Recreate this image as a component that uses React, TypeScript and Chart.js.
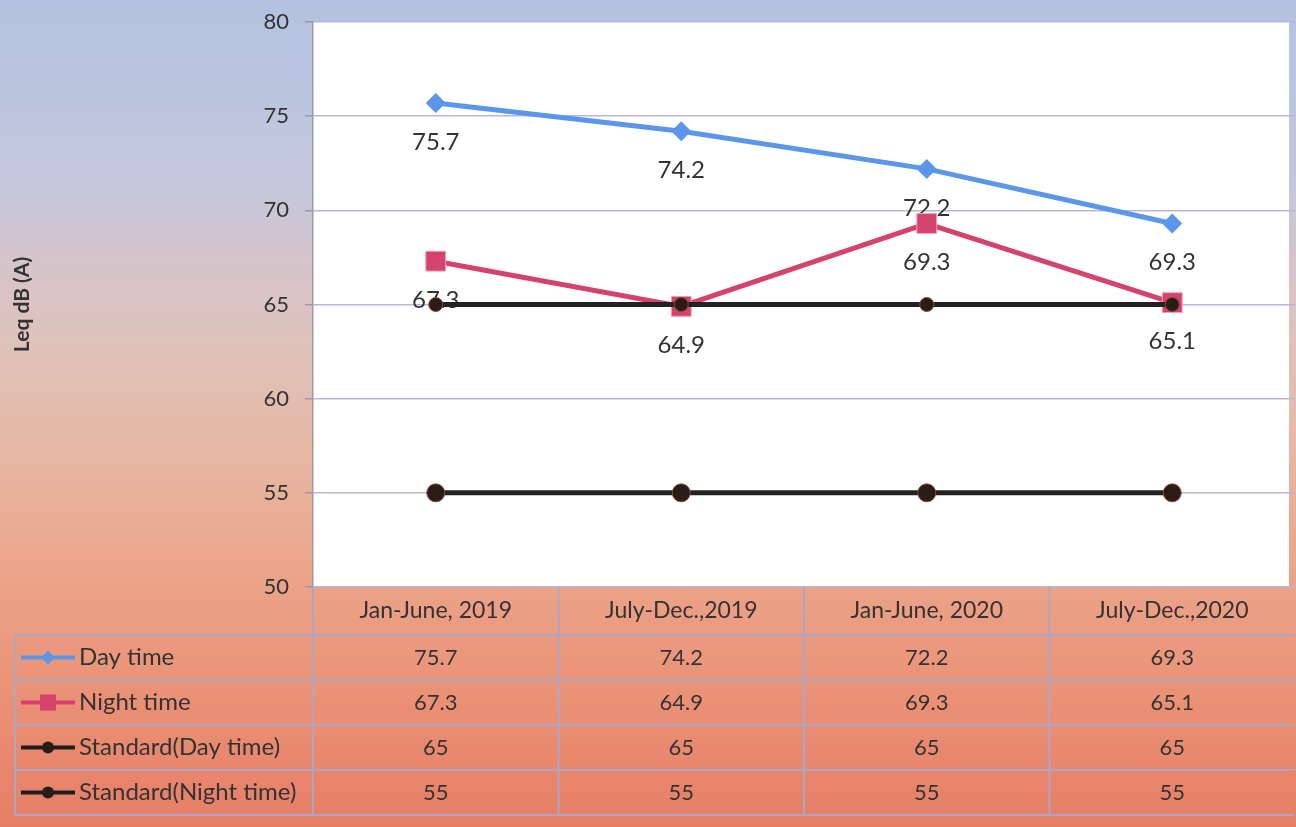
import React, { useEffect, useRef } from "react";
import { Chart, registerables } from "chart.js";

Chart.register(...registerables);

const categories = ["Jan-June, 2019", "July-Dec.,2019", "Jan-June, 2020", "July-Dec.,2020"];
const dayTime = [75.7, 74.2, 72.2, 69.3];
const nightTime = [67.3, 64.9, 69.3, 65.1];
const standardDay = [65, 65, 65, 65];
const standardNight = [55, 55, 55, 55];
const seriesNames = ["Day time", "Night time", "Standard(Day time)", "Standard(Night time)"];
const yTicks = [50, 55, 60, 65, 70, 75, 80];

const FONT = "Lato, 'Open Sans', sans-serif";
const TEXT = "#333333";
const BORDER = "#aaa6c8";

const areaPlugin = {
  id: "areaPlugin",
  afterLayout(chart: any) {
    const ca = chart.chartArea;
    const r = chart.width - 1;
    ca.right = r;
    ca.width = r - ca.left;
    const xs = chart.scales.x;
    xs.right = r;
    xs.width = r - xs.left;
    xs.configure();
  },
};

const bgPlugin = {
  id: "bgPlugin",
  beforeDraw(chart: any) {
    const { ctx, width, height, chartArea } = chart;
    ctx.save();
    const g = ctx.createLinearGradient(0, 0, 0, height);
    g.addColorStop(0, "#b4c2df");
    g.addColorStop(0.22, "#c3c7dd");
    g.addColorStop(0.32, "#d6c4ca");
    g.addColorStop(0.42, "#dfc2ba");
    g.addColorStop(0.55, "#e6b7a3");
    g.addColorStop(0.68, "#eba68b");
    g.addColorStop(0.84, "#ea9176");
    g.addColorStop(1, "#e67e66");
    ctx.fillStyle = g;
    ctx.fillRect(0, 0, width, height);
    ctx.fillStyle = "#ffffff";
    ctx.fillRect(chartArea.left, chartArea.top, chartArea.right - chartArea.left - 6, chartArea.bottom - chartArea.top);
    ctx.restore();
  },
};

const labelPlugin = {
  id: "labelPlugin",
  beforeDatasetsDraw(chart: any) {
    const { ctx } = chart;
    ctx.save();
    ctx.font = `24px ${FONT}`;
    ctx.fillStyle = TEXT;
    ctx.textAlign = "center";
    ctx.textBaseline = "middle";
    [0, 1].forEach((di) => {
      const meta = chart.getDatasetMeta(di);
      const data = chart.data.datasets[di].data as number[];
      meta.data.forEach((pt: any, i: number) => {
        ctx.fillText(String(data[i]), pt.x, pt.y + 39);
      });
    });
    ctx.restore();
  },
};

function drawLegendSymbol(ctx: CanvasRenderingContext2D, di: number, cx: number, cy: number) {
  const colors = ["#5b96ea", "#d4436d", "#1e1e1e", "#1e1e1e"];
  ctx.save();
  ctx.strokeStyle = colors[di];
  ctx.lineWidth = 4;
  ctx.beginPath();
  ctx.moveTo(cx - 27, cy);
  ctx.lineTo(cx + 27, cy);
  ctx.stroke();
  ctx.fillStyle = di < 2 ? colors[di] : "#2a1d18";
  ctx.beginPath();
  if (di === 0) {
    ctx.moveTo(cx, cy - 7);
    ctx.lineTo(cx + 7, cy);
    ctx.lineTo(cx, cy + 7);
    ctx.lineTo(cx - 7, cy);
    ctx.closePath();
  } else if (di === 1) {
    ctx.rect(cx - 8, cy - 8, 16, 16);
  } else {
    ctx.arc(cx, cy, 6, 0, Math.PI * 2);
  }
  ctx.fill();
  ctx.restore();
}

const tablePlugin = {
  id: "tablePlugin",
  afterDraw(chart: any) {
    const { ctx, chartArea } = chart;
    const xs = chart.scales.x;
    const n = categories.length;
    const colW = (xs.getPixelForValue(1) - xs.getPixelForValue(0));
    const right = xs.getPixelForValue(n - 1) + colW / 2;
    const top = chartArea.bottom;
    const headerBottom = top + 48;
    const rowH = 45;
    const legendLeft = 15;
    const rows = [dayTime, nightTime, standardDay, standardNight];
    const tableBottom = headerBottom + rowH * rows.length;

    ctx.save();
    ctx.strokeStyle = BORDER;
    ctx.lineWidth = 2;
    for (let r = 0; r <= rows.length; r++) {
      const y = headerBottom + r * rowH;
      ctx.beginPath();
      ctx.moveTo(legendLeft, y);
      ctx.lineTo(right, y);
      ctx.stroke();
    }
    ctx.beginPath();
    ctx.moveTo(legendLeft, headerBottom);
    ctx.lineTo(legendLeft, tableBottom);
    ctx.stroke();
    for (let c = 0; c < n; c++) {
      const x = xs.getPixelForValue(c) - colW / 2;
      ctx.beginPath();
      ctx.moveTo(x, top);
      ctx.lineTo(x, tableBottom);
      ctx.stroke();
    }

    ctx.fillStyle = TEXT;
    ctx.textBaseline = "middle";
    ctx.textAlign = "center";
    ctx.font = `23px ${FONT}`;
    categories.forEach((c, i) => {
      ctx.fillText(c, xs.getPixelForValue(i), (top + headerBottom) / 2);
    });
    ctx.font = `22px ${FONT}`;
    rows.forEach((row, r) => {
      const cy = headerBottom + r * rowH + rowH / 2;
      row.forEach((v, i) => {
        ctx.fillText(String(v), xs.getPixelForValue(i), cy);
      });
    });
    ctx.textAlign = "left";
    ctx.font = `24px ${FONT}`;
    seriesNames.forEach((name, r) => {
      const cy = headerBottom + r * rowH + rowH / 2;
      drawLegendSymbol(ctx, r, 48, cy);
      ctx.fillStyle = TEXT;
      ctx.fillText(name, 79, cy);
    });
    ctx.restore();
  },
};

export default function App() {
  const ref = useRef<HTMLCanvasElement | null>(null);
  useEffect(() => {
    document.body.style.margin = "0";
    if (!ref.current) return;
    const chart = new Chart(ref.current, {
      type: "line",
      data: {
        labels: categories,
        datasets: [
          {
            label: seriesNames[0],
            data: dayTime,
            borderColor: "#5b96ea",
            backgroundColor: "#5b96ea",
            borderWidth: 5,
            pointStyle: "rectRot",
            pointRadius: 10,
            pointBorderWidth: 0,
            order: 2,
          },
          {
            label: seriesNames[1],
            data: nightTime,
            borderColor: "#d4436d",
            backgroundColor: "#d4436d",
            borderWidth: 5,
            pointStyle: "rect",
            pointRadius: 14,
            pointBorderWidth: 1,
            pointBorderColor: "#f0a0b0",
            order: 1,
          },
          {
            label: seriesNames[2],
            data: standardDay,
            borderColor: "#222222",
            backgroundColor: "#2a1d18",
            borderWidth: 5,
            pointStyle: "circle",
            pointRadius: 7,
            pointBorderWidth: 1,
            pointBorderColor: "#8a4a3a",
            order: 0,
          },
          {
            label: seriesNames[3],
            data: standardNight,
            borderColor: "#222222",
            backgroundColor: "#2a1d18",
            borderWidth: 5,
            pointStyle: "circle",
            pointRadius: 9,
            pointBorderWidth: 1,
            pointBorderColor: "#8a4a3a",
            order: 0,
          },
        ],
      },
      options: {
        responsive: false,
        animation: false,
        layout: { padding: { top: 22, bottom: 240, left: 0, right: 1 } },
        plugins: { legend: { display: false }, tooltip: { enabled: false }, title: { display: false } },
        scales: {
          x: {
            display: false,
            offset: true,
          },
          y: {
            min: 50,
            max: 80,
            afterBuildTicks: (scale: any) => {
              scale.ticks = yTicks.map((v) => ({ value: v }));
            },
            afterFit: (scale: any) => {
              scale.width = 313;
              scale.paddingTop = 0;
              scale.paddingBottom = 0;
              scale.paddingLeft = 0;
              scale.paddingRight = 0;
            },
            ticks: {
              color: TEXT,
              font: { family: FONT, size: 22 },
              padding: 16,
            },
            grid: {
              color: "#b9b6de",
              lineWidth: 1.5,
              tickColor: "#9a98b0",
              tickLength: 8,
            },
            border: { color: "#9a9aa8", width: 1.5 },
            title: {
              display: true,
              text: "Leq dB (A)",
              color: TEXT,
              font: { family: FONT, size: 21, weight: "bold" },
              padding: { top: 10, bottom: 0 },
            },
          },
        },
      },
      plugins: [areaPlugin, bgPlugin, labelPlugin, tablePlugin],
    });
    return () => chart.destroy();
  }, []);
  return (
    <div style={{ position: "absolute", left: 0, top: 0, width: 1296, height: 827 }}>
      <canvas ref={ref} width={1296} height={827} style={{ width: 1296, height: 827 }} />
    </div>
  );
}
